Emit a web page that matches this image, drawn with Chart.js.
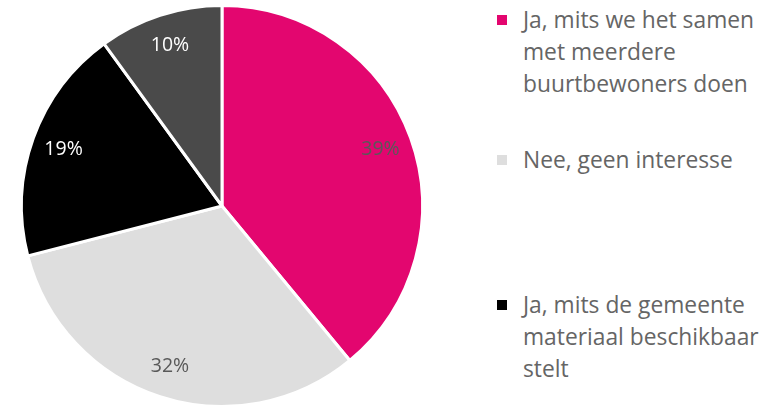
<!DOCTYPE html>
<html>
<head>
<meta charset="utf-8">
<script src="https://cdn.jsdelivr.net/npm/chart.js@4"></script>
<style>
    body { margin: 0; background: #fff; width: 776px; height: 409px; overflow: hidden; position: relative; font-family: "Open Sans", sans-serif; }
    #wrap { position: absolute; left: 0; top: 0; width: 445px; height: 409px; }
    .legend-item { position: absolute; left: 497px; color: #656565; font-size: 22.8px; font-weight: 400; line-height: 32px; white-space: nowrap; }
    .legend-item .box { position: absolute; left: 0; top: 11px; width: 10px; height: 10px; }
    .legend-item .txt { margin-left: 26px; }
</style>
</head>
<body>
<div id="wrap"><canvas id="pieChart"></canvas></div>
<div id="legend"></div>
<script>
const labels = [
    "Ja, mits we het samen met meerdere buurtbewoners doen",
    "Nee, geen interesse",
    "Ja, mits de gemeente materiaal beschikbaar stelt",
    "Nee, ik doe al mee"
];
const values = [39, 32, 19, 10];
const colors = ["#E3066F", "#DEDEDE", "#000000", "#4A4A4A"];
const labelColors = ["#595959", "#595959", "#FFFFFF", "#FFFFFF"];

// legend only shows the first three entries (the fourth falls outside the picture)
const legendLines = [
    ["Ja, mits we het samen", "met meerdere", "buurtbewoners doen"],
    ["Nee, geen interesse"],
    ["Ja, mits de gemeente", "materiaal beschikbaar", "stelt"]
];
const legendTops = [4, 144, 289];

const legendDiv = document.getElementById("legend");
legendLines.forEach((lines, i) => {
    let item = document.createElement("div");
    item.className = "legend-item";
    item.style.top = legendTops[i] + "px";
    item.innerHTML = `<div class="box" style="background:${colors[i]}"></div><div class="txt">${lines.join("<br>")}</div>`;
    legendDiv.appendChild(item);
});

// draws the percentage inside each slice
const sliceLabels = {
    id: "sliceLabels",
    afterDatasetsDraw(chart) {
        const ctx = chart.ctx;
        const meta = chart.getDatasetMeta(0);
        ctx.save();
        ctx.font = "400 19.5px 'Open Sans', sans-serif";
        ctx.textAlign = "center";
        ctx.textBaseline = "middle";
        meta.data.forEach((arc, i) => {
            const p = arc.getProps(["x", "y", "startAngle", "endAngle", "outerRadius"], true);
            const mid = (p.startAngle + p.endAngle) / 2;
            const r = p.outerRadius * 0.84;
            ctx.fillStyle = labelColors[i];
            ctx.fillText(values[i] + "%", p.x + Math.cos(mid) * r, p.y + Math.sin(mid) * r);
        });
        ctx.restore();
    }
};

const ctx = document.getElementById("pieChart").getContext("2d");
let pieChart = new Chart(ctx, {
    type: "pie",
    data: {
        labels: labels,
        datasets: [{
            data: values,
            backgroundColor: colors,
            borderColor: "#FFFFFF",
            borderWidth: 3
        }]
    },
    options: {
        responsive: true,
        maintainAspectRatio: false,
        animation: false,
        layout: { padding: { left: 20, right: 21, top: 4, bottom: 1 } },
        plugins: {
            legend: { display: false },
            tooltip: { enabled: false }
        }
    },
    plugins: [sliceLabels]
});
</script>
</body>
</html>
